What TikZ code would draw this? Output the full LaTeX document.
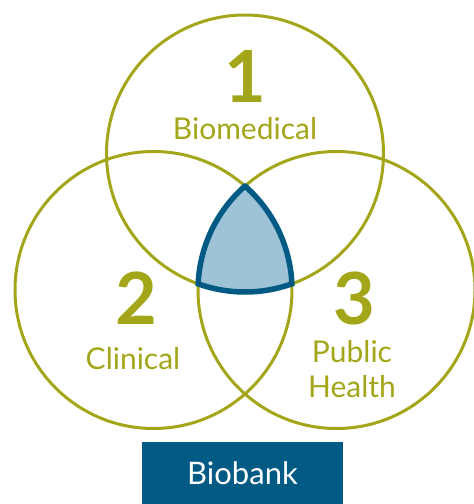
\documentclass[tikz,border=0pt]{standalone}
\usepackage{fontspec}
\setmainfont{Lato}
\definecolor{olivegreen}{RGB}{163,166,25}
\definecolor{bankblue}{RGB}{0,90,132}
\definecolor{corefill}{RGB}{158,195,214}

\begin{document}
\begin{tikzpicture}[
    x=1pt, y=1pt,
    ring/.style={draw=olivegreen, line width=3pt},
    num/.style={text=olivegreen, font=\fontsize{72}{72}\selectfont\bfseries, anchor=base, inner sep=0pt},
    lbl/.style={text=olivegreen, font=\fontsize{30}{35}\selectfont, anchor=base, inner sep=0pt},
    core/.style={fill=corefill, draw=bankblue, line width=5.5pt},
    bankbox/.style={fill=bankblue, text=white, minimum width=201pt, minimum height=62pt,
        font=\fontsize{31}{31}\selectfont, inner sep=0pt}
]
    \useasboundingbox (0,0) rectangle (474,504);

    % circle centres
    \coordinate (bio) at (245,350.5);
    \coordinate (clin) at (153.5,214);
    \coordinate (pub) at (336.5,214);

    \draw[ring] (bio) circle (138.5);
    \draw[ring] (clin) circle (138.5);
    \draw[ring] (pub) circle (138.5);

    % overlap of all three
    \coordinate (vtop) at (245,317.97);
    \draw[core] (vtop) arc[start angle=131.35, end angle=177.45, radius=138.5]
        arc[start angle=250.22, end angle=289.78, radius=138.5]
        arc[start angle=2.55, end angle=48.65, radius=138.5] -- cycle;

    \node[num] (n1) at (245,401) {1};
    \node[lbl] (biolbl) at (245,364) {Biomedical};
    \node[num] (n2) at (136,179) {2};
    \node[lbl] (clinlbl) at (133,134) {Clinical};
    \node[num] (n3) at (354,179) {3};
    \node[lbl] (publbl) at (352,141) {Public};
    \node[lbl] (heallbl) at (352,106) {Health};

    \node[bankbox] (bank) at (242.5,31) {Biobank};
\end{tikzpicture}
\end{document}
